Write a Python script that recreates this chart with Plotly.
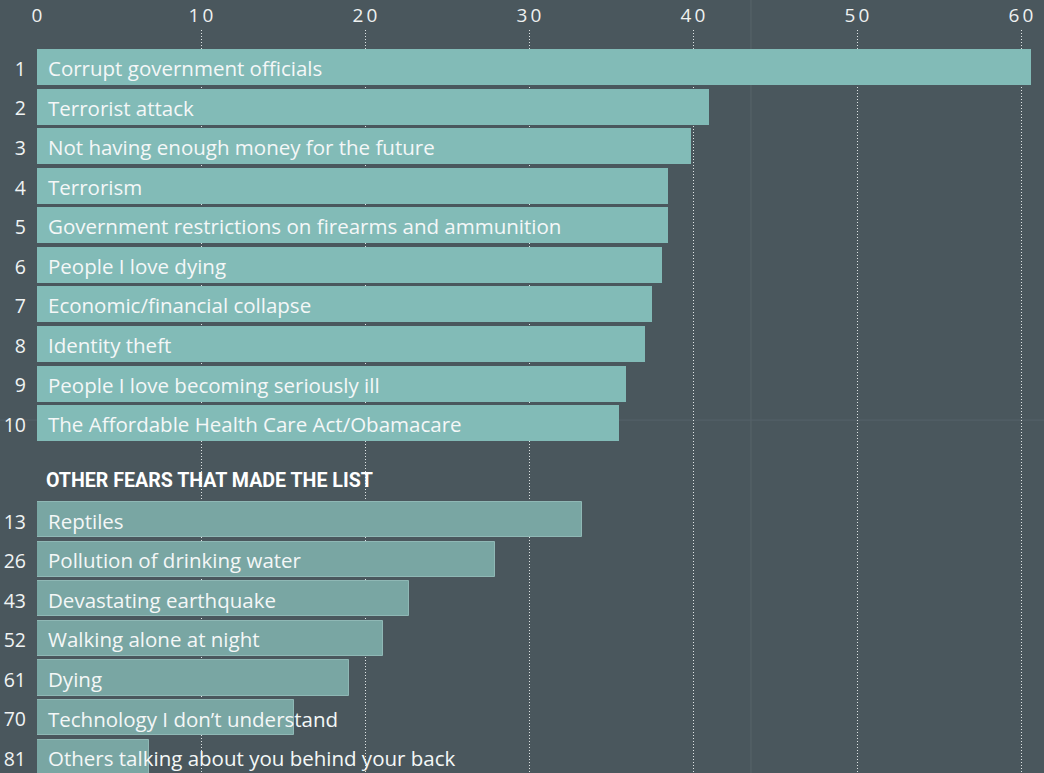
import plotly.graph_objects as go

top_ranks = ["1", "2", "3", "4", "5", "6", "7", "8", "9", "10"]
top_labels = [
    "Corrupt government officials",
    "Terrorist attack",
    "Not having enough money for the future",
    "Terrorism",
    "Government restrictions on firearms and ammunition",
    "People I love dying",
    "Economic/financial collapse",
    "Identity theft",
    "People I love becoming seriously ill",
    "The Affordable Health Care Act/Obamacare",
]
top_values = [60.6, 41.0, 39.9, 38.5, 38.5, 38.1, 37.5, 37.1, 35.9, 35.5]

other_ranks = ["13", "26", "43", "52", "61", "70", "81"]
other_labels = [
    "Reptiles",
    "Pollution of drinking water",
    "Devastating earthquake",
    "Walking alone at night",
    "Dying",
    "Technology I don\u2019t understand",
    "Others talking about you behind your back",
]
other_values = [33.2, 27.9, 22.7, 21.1, 19.0, 15.7, 6.8]

header_text = "OTHER FEARS THAT MADE THE LIST"
x_ticks = [0, 10, 20, 30, 40, 50, 60]

# row positions (category slots)
top_pos = list(range(len(top_ranks)))
gap_start = len(top_ranks) + 1.44
other_pos = [gap_start + i for i in range(len(other_ranks))]
header_pos = len(top_ranks) + 0.46

BG = "#4a575d"
TOP_COLOR = "#82bbb7"
OTHER_COLOR = "#79a6a3"
FONT = "Open Sans"

fig = go.Figure()
fig.add_trace(go.Bar(
    x=top_values, y=top_pos, orientation="h", width=0.91,
    marker=dict(color=TOP_COLOR, line=dict(width=0)),
    hoverinfo="skip", showlegend=False,
))
fig.add_trace(go.Bar(
    x=other_values, y=other_pos, orientation="h", width=0.89,
    marker=dict(color=OTHER_COLOR, line=dict(color="#8fb8b5", width=1)),
    hoverinfo="skip", showlegend=False,
))

for pos, lab in list(zip(top_pos, top_labels)) + list(zip(other_pos, other_labels)):
    fig.add_annotation(
        x=0, y=pos, text=lab, xanchor="left", yanchor="middle",
        xshift=9, yshift=-1, showarrow=False,
        font=dict(family=FONT, size=20.5, color="#f4f7f7"),
    )

fig.add_annotation(
    x=0, y=header_pos, text="<b>" + header_text + "</b>", xanchor="left",
    yanchor="middle", xshift=7, showarrow=False,
    font=dict(family="Roboto", size=19.6, color="#ffffff"),
)

# faint background seams of the original page
fig.add_shape(type="line", xref="paper", yref="paper", x0=0.709, x1=0.709,
              y0=-0.05, y1=1.05, line=dict(color="#58656b", width=1), layer="below")
fig.add_shape(type="line", xref="paper", yref="paper", x0=-0.05, x1=1.0,
              y0=0.475, y1=0.475, line=dict(color="#55626a", width=1), layer="below")

fig.update_layout(
    width=1044, height=773,
    margin=dict(l=37, r=0, t=30, b=0),
    paper_bgcolor=BG, plot_bgcolor=BG,
    bargap=0,
    xaxis=dict(
        side="top", range=[0, 61.4], tickvals=x_ticks,
        ticktext=["\u2009".join(str(t)) for t in x_ticks],
        showgrid=True, gridcolor="rgba(240,244,244,0.9)", gridwidth=1,
        griddash="1px,2px", zeroline=False, showline=False, ticks="",
        tickfont=dict(family=FONT, size=19, color="#eef1f1"),
        ticklabelstandoff=3, fixedrange=True,
    ),
    yaxis=dict(
        range=[17.84, -0.935], tickvals=top_pos + other_pos,
        ticktext=top_ranks + other_ranks,
        showgrid=False, zeroline=False, showline=False, ticks="",
        tickfont=dict(family=FONT, size=19.5, color="#f0f3f3"),
        ticklabelstandoff=10, ticklabelshift=-2, fixedrange=True,
    ),
)

fig.write_html("out.html")
